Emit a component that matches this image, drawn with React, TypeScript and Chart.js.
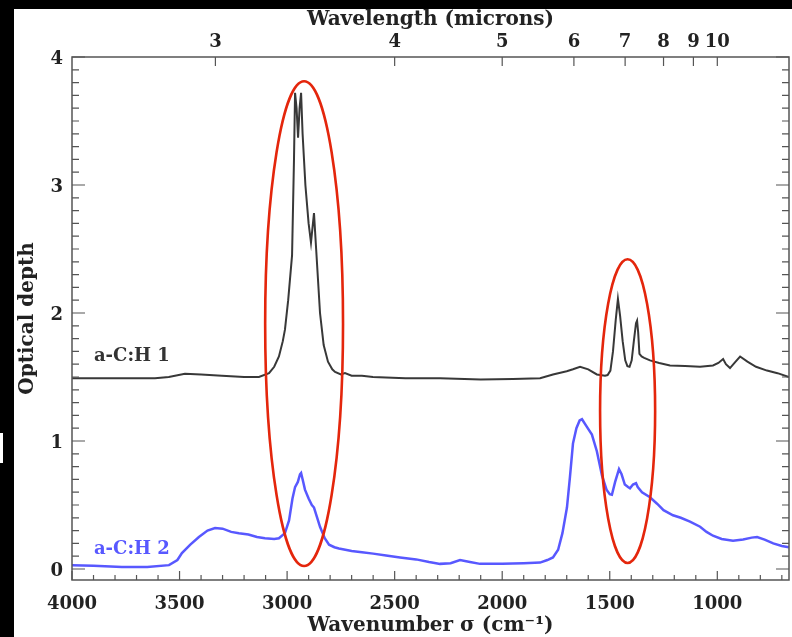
import React, { useEffect, useRef } from "react";
import { Chart, registerables } from "chart.js";

Chart.register(...registerables);

// ---- data ----
const wavenumber1 = [4000, 3800, 3614, 3550, 3475, 3400, 3303, 3200, 3131, 3084, 3060, 3038, 3020, 3010, 2995, 2977, 2968, 2963, 2956, 2949, 2942, 2935, 2928, 2915, 2900, 2889, 2875, 2865, 2847, 2830, 2810, 2790, 2777, 2750, 2731, 2700, 2652, 2601, 2450, 2289, 2100, 1950, 1824, 1764, 1700, 1671, 1638, 1600, 1560, 1522, 1510, 1497, 1485, 1472, 1462, 1452, 1440, 1428, 1418, 1408, 1398, 1388, 1378, 1373, 1368, 1362, 1352, 1340, 1313, 1270, 1220, 1150, 1080, 1020, 995, 973, 960, 941, 915, 894, 860, 820, 769, 720, 667];
const depth1 = [1.49, 1.49, 1.49, 1.5, 1.525, 1.52, 1.51, 1.5, 1.5, 1.53, 1.58, 1.66, 1.78, 1.87, 2.1, 2.45, 3.2, 3.72, 3.6, 3.37, 3.6, 3.72, 3.4, 3.0, 2.7, 2.55, 2.78, 2.5, 2.0, 1.75, 1.62, 1.56, 1.54, 1.52, 1.53, 1.51, 1.51, 1.5, 1.49, 1.49, 1.48, 1.485, 1.49, 1.52, 1.545, 1.56, 1.58, 1.56, 1.52, 1.51, 1.515, 1.55, 1.7, 1.95, 2.11, 1.98, 1.78, 1.63, 1.585, 1.58, 1.63, 1.78, 1.92, 1.94, 1.85, 1.68, 1.66, 1.65, 1.63, 1.61, 1.59, 1.585, 1.58, 1.59, 1.61, 1.64, 1.6, 1.57, 1.62, 1.66, 1.62, 1.58, 1.55, 1.53, 1.5];

const wavenumber2 = [4000, 3900, 3768, 3650, 3549, 3510, 3489, 3450, 3410, 3370, 3335, 3300, 3260, 3224, 3180, 3140, 3103, 3060, 3038, 3010, 2991, 2975, 2963, 2950, 2940, 2935, 2925, 2917, 2900, 2885, 2875, 2860, 2847, 2825, 2805, 2780, 2759, 2700, 2652, 2600, 2540, 2475, 2400, 2340, 2289, 2240, 2196, 2150, 2103, 2000, 1900, 1824, 1790, 1764, 1740, 1720, 1699, 1685, 1671, 1655, 1640, 1629, 1610, 1583, 1560, 1536, 1515, 1500, 1490, 1475, 1457, 1445, 1430, 1415, 1406, 1392, 1378, 1370, 1350, 1313, 1280, 1250, 1206, 1170, 1127, 1080, 1050, 1020, 980, 927, 880, 840, 815, 780, 740, 700, 667];
const depth2 = [0.03, 0.025, 0.015, 0.015, 0.03, 0.07, 0.125, 0.19, 0.25, 0.3, 0.32, 0.315, 0.29, 0.28, 0.27, 0.25, 0.24, 0.235, 0.24, 0.28, 0.38, 0.55, 0.64, 0.68, 0.74, 0.75, 0.68, 0.62, 0.55, 0.5, 0.48, 0.4, 0.33, 0.24, 0.19, 0.17, 0.16, 0.14, 0.13, 0.12, 0.105, 0.09, 0.075, 0.055, 0.04, 0.045, 0.07, 0.055, 0.04, 0.04, 0.045, 0.05, 0.07, 0.09, 0.15, 0.28, 0.48, 0.72, 0.98, 1.1, 1.16, 1.17, 1.12, 1.05, 0.92, 0.73, 0.62, 0.585, 0.58, 0.68, 0.78, 0.74, 0.66, 0.64, 0.63, 0.66, 0.67, 0.64, 0.6, 0.56, 0.51, 0.46, 0.42, 0.4, 0.37, 0.33, 0.29, 0.26, 0.235, 0.22, 0.23, 0.245, 0.25, 0.23, 0.2, 0.18, 0.17];

const seriesNames = ["a-C:H 1", "a-C:H 2"];
const labelWavenumbers = [3898, 3898];
const labelDepths = [1.66, 0.15];

const xTickValues = [4000, 3500, 3000, 2500, 2000, 1500, 1000];
const micronTicks = [3, 4, 5, 6, 7, 8, 9, 10];
const yTickValues = [0, 1, 2, 3, 4];

const X_MIN = 666.7;
const X_MAX = 4000;
const Y_MIN = -0.086;
const Y_MAX = 4;

// highlighted regions (data units)
const ellipseCenters = [2921, 1417];
const ellipseHalfWidths = [181, 128];
const ellipseTops = [3.81, 2.42];
const ellipseBottoms = [0.023, 0.047];

const BLACK = "#383838";
const BLUE = "rgb(88,88,255)";
const RED = "rgb(228,38,12)";
const TEXT = "#222";
const FRAME = "#555";
const FAMILY = "'DejaVu Serif', serif";

const decorPlugin = {
  id: "decor",
  afterDatasetsDraw(chart: any) {
    const { ctx, chartArea, scales } = chart;
    const x = scales.x;
    const y = scales.y;
    const { left, right, top, bottom } = chartArea;
    ctx.save();
    // frame
    ctx.strokeStyle = FRAME;
    ctx.lineWidth = 1.5;
    ctx.strokeRect(left, top, right - left, bottom - top);
    // bottom ticks
    ctx.lineWidth = 1.2;
    ctx.beginPath();
    for (let v = 4000; v >= X_MIN; v -= 100) {
      const px = x.getPixelForValue(v);
      const len = v % 500 === 0 ? 9 : 5;
      ctx.moveTo(px, bottom);
      ctx.lineTo(px, bottom - len);
    }
    // top ticks (wavelength)
    micronTicks.forEach((m) => {
      const px = x.getPixelForValue(1e4 / m);
      ctx.moveTo(px, top);
      ctx.lineTo(px, top + 9);
    });
    // y ticks, left and right
    for (let i = 0; i <= 40; i++) {
      const v = i / 10;
      if (v < Y_MIN) continue;
      const py = y.getPixelForValue(v);
      const len = i % 10 === 0 ? 13 : 7;
      ctx.moveTo(left, py);
      ctx.lineTo(left + len, py);
      ctx.moveTo(right, py);
      ctx.lineTo(right - len, py);
    }
    ctx.stroke();

    // ellipses
    ctx.strokeStyle = RED;
    ctx.lineWidth = 2.6;
    ellipseCenters.forEach((c, i) => {
      const cx = x.getPixelForValue(c);
      const rx = Math.abs(x.getPixelForValue(c + ellipseHalfWidths[i]) - cx);
      const yt = y.getPixelForValue(ellipseTops[i]);
      const yb = y.getPixelForValue(ellipseBottoms[i]);
      ctx.beginPath();
      ctx.ellipse(cx, (yt + yb) / 2, rx, Math.abs(yb - yt) / 2, 0, 0, Math.PI * 2);
      ctx.stroke();
    });

    // series labels
    ctx.font = `bold 18px ${FAMILY}`;
    ctx.textAlign = "left";
    ctx.textBaseline = "middle";
    seriesNames.forEach((name, i) => {
      ctx.fillStyle = i === 0 ? "#333" : BLUE;
      ctx.fillText(name, x.getPixelForValue(labelWavenumbers[i]), y.getPixelForValue(labelDepths[i]));
    });
    ctx.restore();
  },
};

export default function App() {
  const ref = useRef<HTMLCanvasElement | null>(null);
  useEffect(() => {
    if (!ref.current) return;
    const tickFont = { family: FAMILY, size: 18, weight: "bold" as const, lineHeight: 1 };
    const titleFont = { family: FAMILY, size: 20, weight: "bold" as const, lineHeight: 1 };
    const chart = new Chart(ref.current, {
      type: "line",
      data: {
        datasets: [
          {
            label: seriesNames[0],
            data: wavenumber1.map((w, i) => ({ x: w, y: depth1[i] })),
            borderColor: BLACK,
            borderWidth: 2,
            pointRadius: 0,
            tension: 0,
          },
          {
            label: seriesNames[1],
            data: wavenumber2.map((w, i) => ({ x: w, y: depth2[i] })),
            borderColor: BLUE,
            borderWidth: 2.5,
            pointRadius: 0,
            tension: 0,
          },
        ],
      },
      options: {
        animation: false,
        responsive: false,
        maintainAspectRatio: false,
        events: [],
        layout: { padding: { left: 0, right: 3, top: 0, bottom: 0 } },
        plugins: { legend: { display: false }, tooltip: { enabled: false } },
        scales: {
          x: {
            type: "linear",
            position: "bottom",
            reverse: true,
            min: X_MIN,
            max: X_MAX,
            afterBuildTicks: (s: any) => {
              s.ticks = xTickValues.map((v) => ({ value: v }));
            },
            afterFit: (s: any) => {
              s.height = 57;
            },
            ticks: {
              autoSkip: false,
              maxRotation: 0,
              padding: 15,
              color: TEXT,
              font: tickFont,
              callback: (v: any) => String(v),
            },
            grid: { display: false, drawTicks: false },
            border: { display: false },
            title: {
              display: true,
              text: "Wavenumber σ (cm⁻¹)",
              color: TEXT,
              font: titleFont,
              padding: { top: 0, bottom: 1 },
            },
          },
          xTop: {
            type: "linear",
            position: "top",
            reverse: true,
            min: X_MIN,
            max: X_MAX,
            afterBuildTicks: (s: any) => {
              s.ticks = micronTicks.map((m) => ({ value: 1e4 / m }));
            },
            afterFit: (s: any) => {
              s.height = 48;
            },
            ticks: {
              autoSkip: false,
              maxRotation: 0,
              padding: 6,
              color: TEXT,
              font: tickFont,
              callback: (v: any) => String(Math.round(1e4 / v)),
            },
            grid: { display: false, drawTicks: false },
            border: { display: false },
            title: {
              display: true,
              text: "Wavelength (microns)",
              color: TEXT,
              font: titleFont,
              padding: { top: 1, bottom: 0 },
            },
          },
          y: {
            type: "linear",
            position: "left",
            min: Y_MIN,
            max: Y_MAX,
            afterBuildTicks: (s: any) => {
              s.ticks = yTickValues.map((v) => ({ value: v }));
            },
            afterFit: (s: any) => {
              s.width = 58;
            },
            ticks: {
              padding: 9,
              labelOffset: 2,
              color: TEXT,
              font: tickFont,
              callback: (v: any) => String(v),
            },
            grid: { display: false, drawTicks: false },
            border: { display: false },
            title: {
              display: true,
              text: "Optical depth",
              color: TEXT,
              font: titleFont,
              padding: { top: 4, bottom: 0 },
            },
          },
        },
      } as any,
      plugins: [decorPlugin],
    });
    return () => chart.destroy();
  }, []);

  return (
    <div style={{ position: "fixed", left: 0, top: 0, width: 792, height: 637, background: "#000", overflow: "hidden" }}>
      <div style={{ position: "absolute", left: 0, top: 433, width: 3, height: 30, background: "#fff" }} />
      <canvas
        ref={ref}
        width={778}
        height={628}
        style={{ position: "absolute", left: 14, top: 9, width: 778, height: 628, background: "#fff" }}
      />
    </div>
  );
}
